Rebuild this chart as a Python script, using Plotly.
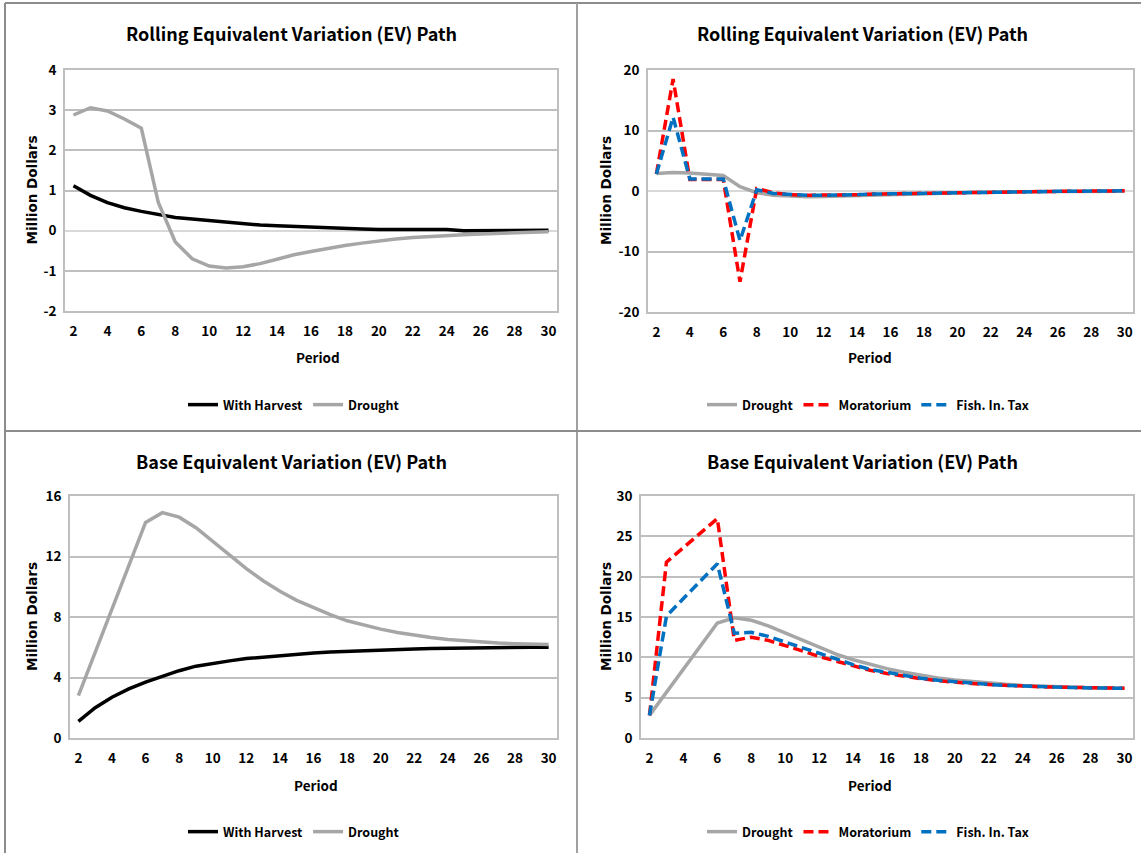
import plotly.graph_objects as go

W, H = 1141, 853

periods = list(range(2, 31))
tick_periods = list(range(2, 31, 2))

# Rolling EV (left top)
roll_harvest = [1.12, 0.88, 0.70, 0.57, 0.48, 0.40, 0.33, 0.29, 0.25, 0.20, 0.16, 0.14, 0.12, 0.10,
                0.08, 0.07, 0.05, 0.04, 0.03, 0.03, 0.03, 0.03, 0.03, 0.00, 0.00, 0.01, 0.01, 0.01, 0.01]
roll_drought = [2.88, 3.06, 2.98, 2.78, 2.55, 0.70, -0.28, -0.70, -0.88, -0.93, -0.90, -0.82, -0.71, -0.60,
                -0.52, -0.44, -0.37, -0.31, -0.25, -0.21, -0.17, -0.14, -0.12, -0.10, -0.08, -0.06, -0.05, -0.04, -0.03]
# Rolling EV policies (right top)
roll_moratorium = [2.8, 18.5, 1.9, 1.9, 1.9, -15.0, 0.4, -0.3, -0.6, -0.7, -0.7, -0.7, -0.6, -0.5,
                   -0.45, -0.4, -0.35, -0.3, -0.25, -0.2, -0.15, -0.12, -0.1, -0.08, -0.06, -0.04, 0.0, 0.02, 0.03]
roll_fishtax = [2.8, 12.2, 2.0, 2.0, 2.0, -8.2, 0.2, -0.4, -0.6, -0.7, -0.7, -0.7, -0.6, -0.5,
                -0.45, -0.4, -0.35, -0.3, -0.25, -0.2, -0.15, -0.12, -0.1, -0.08, -0.06, -0.04, 0.0, 0.02, 0.03]

# Base EV (left bottom)
base_harvest = [1.1, 2.0, 2.7, 3.25, 3.7, 4.1, 4.45, 4.75, 4.95, 5.1, 5.25, 5.35, 5.45, 5.55, 5.62,
                5.68, 5.73, 5.78, 5.82, 5.86, 5.89, 5.92, 5.94, 5.96, 5.97, 5.98, 5.99, 6.0, 6.0]
base_drought = [2.8, 5.7, 8.6, 11.5, 14.25, 14.9, 14.6, 13.9, 13.0, 12.1, 11.2, 10.4, 9.7, 9.1, 8.6,
                8.15, 7.75, 7.45, 7.2, 6.98, 6.8, 6.65, 6.52, 6.43, 6.35, 6.28, 6.23, 6.2, 6.18]
base_moratorium = [2.8, 21.8, 23.6, 25.4, 27.2, 12.1, 12.5, 12.1, 11.5, 10.8, 10.1, 9.5, 8.9, 8.4, 8.0,
                   7.65, 7.35, 7.1, 6.9, 6.75, 6.62, 6.5, 6.42, 6.35, 6.3, 6.25, 6.2, 6.18, 6.17]
base_fishtax = [2.8, 15.1, 17.3, 19.4, 21.6, 13.0, 13.1, 12.6, 11.9, 11.1, 10.4, 9.7, 9.1, 8.5, 8.1,
                7.7, 7.4, 7.15, 6.95, 6.78, 6.64, 6.52, 6.43, 6.36, 6.3, 6.25, 6.2, 6.18, 6.17]

titles = ["Rolling Equivalent Variation (EV) Path", "Rolling Equivalent Variation (EV) Path",
          "Base Equivalent Variation (EV) Path", "Base Equivalent Variation (EV) Path"]

BLACK = "#000000"
GREY = "#a6a6a6"
RED = "#ff0000"
BLUE = "#0070c0"

FAM = "Noto Sans CJK JP, Lato, sans-serif"
TICKFONT = dict(family=FAM, size=13.5, color="#000000", weight="bold")

fig = go.Figure()

def px_x(p):
    return p / W

def px_y(p):
    return 1 - p / H

panels = [
    dict(x=(65, 557), y=(70, 311), yr=(-2, 4), yt=[-2, -1, 0, 1, 2, 3, 4], zero=True,
         tx=291, ty=33, px=318, py=357, yx=32, lx=294, ly=405),
    dict(x=(648, 1133), y=(70, 312), yr=(-20, 20), yt=[-20, -10, 0, 10, 20], zero=True,
         tx=862, ty=33, px=870, py=357, yx=606, lx=868, ly=405),
    dict(x=(70, 557), y=(496, 738), yr=(0, 16), yt=[0, 4, 8, 12, 16], zero=False,
         tx=291, ty=461, px=316, py=785, yx=32, lx=294, ly=832),
    dict(x=(641, 1133), y=(496, 738), yr=(0, 30), yt=[0, 5, 10, 15, 20, 25, 30], zero=False,
         tx=863, ty=461, px=870, py=785, yx=606, lx=868, ly=832),
]

series = [
    [("With Harvest", roll_harvest, BLACK, "solid"), ("Drought", roll_drought, GREY, "solid")],
    [("Drought", roll_drought, GREY, "solid"), ("Moratorium", roll_moratorium, RED, "dash"),
     ("Fish. In. Tax", roll_fishtax, BLUE, "dash")],
    [("With Harvest", base_harvest, BLACK, "solid"), ("Drought", base_drought, GREY, "solid")],
    [("Drought", base_drought, GREY, "solid"), ("Moratorium", base_moratorium, RED, "dash"),
     ("Fish. In. Tax", base_fishtax, BLUE, "dash")],
]

annotations = []
shapes = []
layout_axes = {}
for i, (pn, ser) in enumerate(zip(panels, series)):
    k = i + 1
    xa = "xaxis" if k == 1 else f"xaxis{k}"
    ya = "yaxis" if k == 1 else f"yaxis{k}"
    xr = "x" if k == 1 else f"x{k}"
    yr = "y" if k == 1 else f"y{k}"
    leg = "legend" if k == 1 else f"legend{k}"
    for name, vals, col, dash in ser:
        fig.add_trace(go.Scatter(x=periods, y=vals, mode="lines", name=name,
                                 line=dict(color=col, width=3.5, dash="solid" if dash == "solid" else "10px,5px"),
                                 xaxis=xr, yaxis=yr, legend=leg, showlegend=True))
    layout_axes[xa] = dict(domain=[px_x(pn["x"][0]), px_x(pn["x"][1])], range=[1.5, 30.5],
                           tickvals=tick_periods, ticktext=[str(v) for v in tick_periods],
                           showgrid=False, zeroline=False,
                           showline=True, mirror=True, linecolor="#bfbfbf", linewidth=1.5,
                           ticks="outside", ticklen=7, tickcolor="rgba(0,0,0,0)",
                           tickfont=TICKFONT, anchor=yr, fixedrange=True)
    layout_axes[ya] = dict(domain=[px_y(pn["y"][1]), px_y(pn["y"][0])], range=list(pn["yr"]),
                           tickvals=pn["yt"], ticktext=[str(v) for v in pn["yt"]],
                           showgrid=True, gridcolor="#bfbfbf", gridwidth=1.5,
                           zeroline=pn["zero"], zerolinecolor="#d9d9d9", zerolinewidth=1.5,
                           showline=True, mirror=True, linecolor="#bfbfbf", linewidth=1.5,
                           ticks="outside", ticklen=4, tickcolor="rgba(0,0,0,0)",
                           tickfont=TICKFONT, anchor=xr, fixedrange=True)
    annotations.append(dict(text=titles[i], x=px_x(pn["tx"]), y=px_y(pn["ty"]),
                            xref="paper", yref="paper", showarrow=False, xanchor="center", yanchor="middle",
                            font=dict(family=FAM, size=18, color="#000", weight="bold")))
    annotations.append(dict(text="Period", x=px_x(pn["px"]), y=px_y(pn["py"]),
                            xref="paper", yref="paper", showarrow=False, xanchor="center", yanchor="middle",
                            font=dict(family=FAM, size=13.5, color="#000", weight="bold")))
    annotations.append(dict(text="<b>Million Dollars</b>", x=px_x(pn["yx"]), y=px_y((pn["y"][0] + pn["y"][1]) / 2),
                            xref="paper", yref="paper", showarrow=False, xanchor="center", yanchor="middle",
                            textangle=-90, font=dict(family="DejaVu Sans", size=13.5, color="#000")))
    layout_axes[leg] = dict(orientation="h", x=px_x(pn["lx"]), y=px_y(pn["ly"]), xanchor="center", yanchor="middle",
                            font=dict(family=FAM, size=12.5, color="#000", weight="bold"), bgcolor="rgba(0,0,0,0)",
                            itemwidth=30, tracegroupgap=0)

line_col = "#8c8c8c"
shapes.append(dict(type="line", xref="paper", yref="paper", x0=px_x(5), x1=1, y0=px_y(3), y1=px_y(3),
                   line=dict(color=line_col, width=2)))
shapes.append(dict(type="line", xref="paper", yref="paper", x0=px_x(5), x1=px_x(5), y0=px_y(3), y1=0,
                   line=dict(color=line_col, width=2)))
shapes.append(dict(type="line", xref="paper", yref="paper", x0=px_x(577), x1=px_x(577), y0=px_y(3), y1=0,
                   line=dict(color="#a0a0a0", width=2)))
shapes.append(dict(type="line", xref="paper", yref="paper", x0=px_x(5), x1=1, y0=px_y(431), y1=px_y(431),
                   line=dict(color=line_col, width=2)))

fig.update_layout(width=W, height=H, margin=dict(l=0, r=0, t=0, b=0, autoexpand=False),
                  paper_bgcolor="white", plot_bgcolor="white",
                  annotations=annotations, shapes=shapes, **layout_axes)

post = ("document.body.style.margin='0';document.body.style.overflow='hidden';"
        "var d=document.getElementById('{plot_id}');d.style.position='fixed';d.style.top='0px';d.style.left='0px';")
fig.write_html("out.html", config={"displayModeBar": False}, post_script=post)
